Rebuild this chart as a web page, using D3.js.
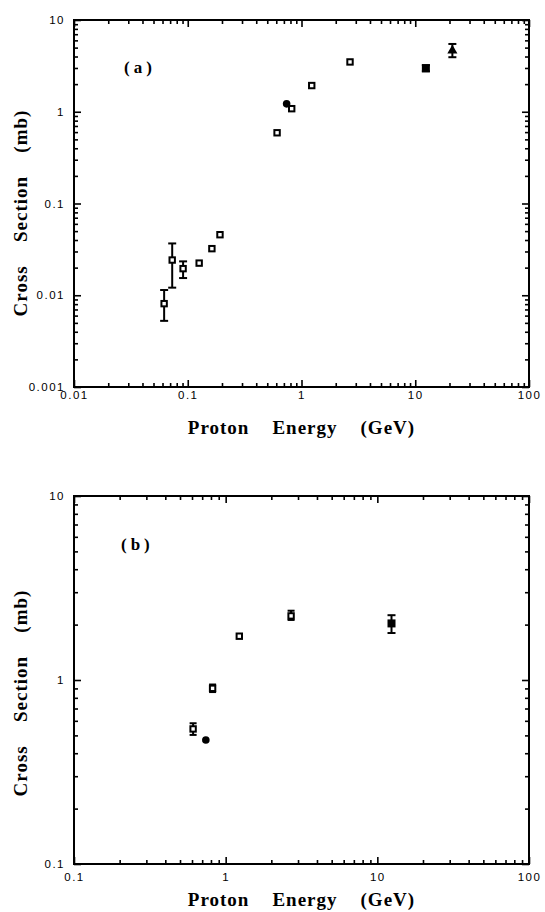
<!DOCTYPE html>
<html>
<head>
<meta charset="utf-8">
<script src="https://cdn.jsdelivr.net/npm/d3@7"></script>
<style>
  html, body { margin: 0; padding: 0; background: #fff; }
  svg { display: block; }
  .tick text { font-family: "Liberation Sans", Arial, sans-serif; font-size: 11.5px; letter-spacing: 1.5px; fill: #000; }
  .title { font-family: "Liberation Serif", "Times New Roman", serif; font-weight: bold; font-size: 19px; letter-spacing: 1px; fill: #000; }
  .ytitle { word-spacing: 2px; }
  .plabel { font-family: "Liberation Serif", "Times New Roman", serif; font-weight: bold; font-size: 17px; letter-spacing: 4px; fill: #000; }
</style>
</head>
<body>
<script>
// ---- Panel (a): cross section vs proton energy, 0.01–100 GeV ----
const aOpenE  = [0.062, 0.073, 0.091, 0.126, 0.163, 0.192, 0.61, 0.82, 1.23, 2.67];
const aOpenV  = [0.0081, 0.0242, 0.0195, 0.0224, 0.0322, 0.0457, 0.59, 1.08, 1.93, 3.49];
const aOpenLo = [0.00526, 0.0121, 0.0154, null, null, null, null, null, null, null];
const aOpenHi = [0.0114, 0.0367, 0.0234, null, null, null, null, null, null, null];
const aCircleE = [0.74];
const aCircleV = [1.22];
const aFilledE  = [12.4];
const aFilledV  = [2.98];
const aFilledLo = [2.76];
const aFilledHi = [3.22];
const aTriE  = [21.2];
const aTriV  = [4.63];
const aTriLo = [3.93];
const aTriHi = [5.48];

// ---- Panel (b): cross section vs proton energy, 0.1–100 GeV ----
const bOpenE  = [0.61, 0.82, 1.23, 2.70];
const bOpenV  = [0.542, 0.901, 1.73, 2.23];
const bOpenLo = [0.503, 0.860, null, 2.12];
const bOpenHi = [0.582, 0.945, null, 2.38];
const bCircleE = [0.74];
const bCircleV = [0.472];
const bFilledE  = [12.4];
const bFilledV  = [2.03];
const bFilledLo = [1.80];
const bFilledHi = [2.25];

// Tick labels
const aXTicks = ["0.01", "0.1", "1", "10", "100"];
const aYTicks = ["0.001", "0.01", "0.1", "1", "10"];
const bXTicks = ["0.1", "1", "10", "100"];
const bYTicks = ["0.1", "1", "10"];

const xTitleWords = ["Proton", "Energy", "(GeV)"];
const yTitleWords = ["Cross", "Section", "(mb)"];

const W = 545, H = 912;
const svg = d3.select("body").append("svg").attr("width", W).attr("height", H);
svg.append("rect").attr("width", W).attr("height", H).attr("fill", "#fff");

function minorTicks(domain) {
  const out = [];
  const lo = Math.round(Math.log10(domain[0])), hi = Math.round(Math.log10(domain[1]));
  for (let p = lo; p < hi; p++) for (let m = 2; m <= 9; m++) out.push(m * Math.pow(10, p));
  return out;
}

function panel(opt) {
  const { left, right, top, bottom, xDom, yDom, xLabels, yLabels, xPad, label } = opt;
  const x = d3.scaleLog().domain(xDom).range([left, right]);
  const y = d3.scaleLog().domain(yDom).range([bottom, top]);
  const g = svg.append("g");

  const xMaj = xLabels.map(Number), yMaj = yLabels.map(Number);
  const xMin = minorTicks(xDom), yMin = minorTicks(yDom);
  const fmtX = d => xLabels[xMaj.indexOf(d)];
  const fmtY = d => yLabels[yMaj.indexOf(d)];

  const axes = [
    [d3.axisBottom(x).tickValues(xMaj).tickSize(-7).tickPadding(xPad).tickFormat(fmtX), `translate(0,${bottom})`],
    [d3.axisBottom(x).tickValues(xMin).tickSize(-4).tickFormat(""), `translate(0,${bottom})`],
    [d3.axisTop(x).tickValues(xMaj).tickSize(-7).tickFormat(""), `translate(0,${top})`],
    [d3.axisTop(x).tickValues(xMin).tickSize(-4).tickFormat(""), `translate(0,${top})`],
    [d3.axisLeft(y).tickValues(yMaj).tickSize(-7).tickPadding(9).tickFormat(fmtY), `translate(${left},0)`],
    [d3.axisLeft(y).tickValues(yMin).tickSize(-4).tickFormat(""), `translate(${left},0)`],
    [d3.axisRight(y).tickValues(yMaj).tickSize(-7).tickFormat(""), `translate(${right},0)`],
    [d3.axisRight(y).tickValues(yMin).tickSize(-4).tickFormat(""), `translate(${right},0)`]
  ];
  axes.forEach(([ax, tr]) => {
    const a = g.append("g").attr("transform", tr).call(ax);
    a.select(".domain").remove();
    a.selectAll("line").attr("stroke", "#000").attr("stroke-width", 1.6);
  });

  g.append("rect")
    .attr("x", left).attr("y", top)
    .attr("width", right - left).attr("height", bottom - top)
    .attr("fill", "none").attr("stroke", "#000").attr("stroke-width", 2);

  // Axis titles
  const cx = (left + right) / 2;
  g.append("text").attr("class", "title")
    .attr("x", cx).attr("y", opt.xTitleY).attr("text-anchor", "middle")
    .style("white-space", "pre")
    .text(xTitleWords.join("    "));

  g.append("text").attr("class", "title ytitle")
    .attr("transform", `translate(${opt.yTitleX},${opt.yTitleC}) rotate(-90)`)
    .attr("text-anchor", "middle").style("white-space", "pre")
    .text(yTitleWords.join("   "));

  g.append("text").attr("class", "plabel")
    .attr("x", label.x).attr("y", label.y).text(label.text);

  return { g, x, y };
}

function errorBars(p, E, V, Lo, Hi, cap) {
  const data = E.map((e, i) => ({ e, lo: Lo[i], hi: Hi[i] })).filter(d => d.lo != null);
  const eb = p.g.append("g").attr("stroke", "#000").attr("stroke-width", 2);
  data.forEach(d => {
    const cxp = p.x(d.e);
    eb.append("line").attr("x1", cxp).attr("x2", cxp).attr("y1", p.y(d.lo)).attr("y2", p.y(d.hi));
    eb.append("line").attr("x1", cxp - cap).attr("x2", cxp + cap).attr("y1", p.y(d.lo)).attr("y2", p.y(d.lo));
    eb.append("line").attr("x1", cxp - cap).attr("x2", cxp + cap).attr("y1", p.y(d.hi)).attr("y2", p.y(d.hi));
  });
}

function openSquares(p, E, V) {
  p.g.append("g").selectAll("rect").data(E.map((e, i) => [e, V[i]])).join("rect")
    .attr("x", d => p.x(d[0]) - 2.7).attr("y", d => p.y(d[1]) - 2.7)
    .attr("width", 5.4).attr("height", 5.4)
    .attr("fill", "#fff").attr("stroke", "#000").attr("stroke-width", 2);
}
function circles(p, E, V) {
  p.g.append("g").selectAll("circle").data(E.map((e, i) => [e, V[i]])).join("circle")
    .attr("cx", d => p.x(d[0])).attr("cy", d => p.y(d[1])).attr("r", 3.8).attr("fill", "#000");
}
function filledSquares(p, E, V) {
  p.g.append("g").selectAll("rect").data(E.map((e, i) => [e, V[i]])).join("rect")
    .attr("x", d => p.x(d[0]) - 4).attr("y", d => p.y(d[1]) - 4)
    .attr("width", 8).attr("height", 8).attr("fill", "#000");
}
function triangles(p, E, V) {
  const sym = d3.symbol().type(d3.symbolTriangle).size(44);
  p.g.append("g").selectAll("path").data(E.map((e, i) => [e, V[i]])).join("path")
    .attr("transform", d => `translate(${p.x(d[0])},${p.y(d[1])})`)
    .attr("d", sym).attr("fill", "#000");
}

// Panel (a)
const pa = panel({
  left: 74, right: 529, top: 20, bottom: 387,
  xDom: [0.01, 100], yDom: [0.001, 10],
  xLabels: aXTicks, yLabels: aYTicks, xPad: 4,
  xTitleY: 434, yTitleX: 27, yTitleC: 213,
  label: { x: 124, y: 73, text: "(a)" }
});
errorBars(pa, aOpenE, aOpenV, aOpenLo, aOpenHi, 4);
errorBars(pa, aFilledE, aFilledV, aFilledLo, aFilledHi, 4);
errorBars(pa, aTriE, aTriV, aTriLo, aTriHi, 4);
openSquares(pa, aOpenE, aOpenV);
circles(pa, aCircleE, aCircleV);
filledSquares(pa, aFilledE, aFilledV);
triangles(pa, aTriE, aTriV);

// Panel (b)
const pb = panel({
  left: 74, right: 529, top: 496, bottom: 864,
  xDom: [0.1, 100], yDom: [0.1, 10],
  xLabels: bXTicks, yLabels: bYTicks, xPad: 9,
  xTitleY: 906, yTitleX: 27, yTitleC: 693,
  label: { x: 121, y: 550, text: "(b)" }
});
errorBars(pb, bOpenE, bOpenV, bOpenLo, bOpenHi, 3.5);
errorBars(pb, bFilledE, bFilledV, bFilledLo, bFilledHi, 4);
openSquares(pb, bOpenE, bOpenV);
circles(pb, bCircleE, bCircleV);
filledSquares(pb, bFilledE, bFilledV);
</script>
</body>
</html>
